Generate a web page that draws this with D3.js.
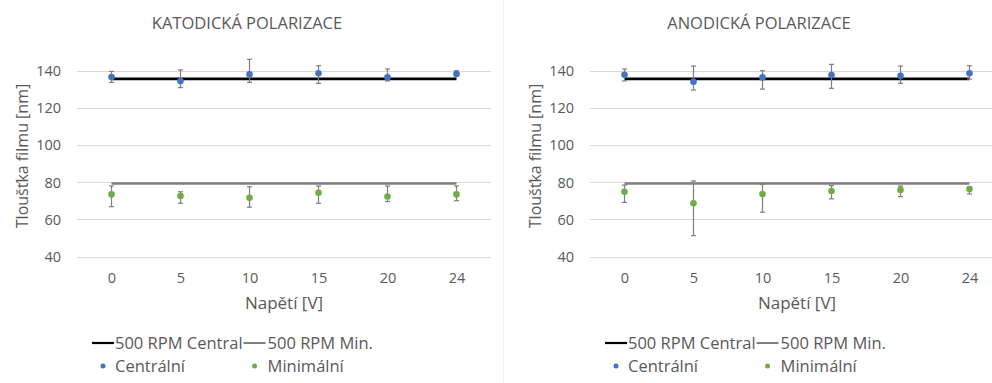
<!DOCTYPE html>
<html>
<head>
<meta charset="utf-8">
<script src="https://cdn.jsdelivr.net/npm/d3@7"></script>
<style>
  body { margin: 0; background: #fff; }
  text { font-family: "Open Sans", sans-serif; fill: #595959; }
</style>
</head>
<body>
<div id="chart-area"></div>
<script>
var width = 992;
var height = 383;

// categories (voltage) and y ticks
var categories = ["0", "5", "10", "15", "20", "24"];
var yTicks = [40, 60, 80, 100, 120, 140];

// reference levels (500 RPM)
var refCentral = 135.5;
var refMin = 79.3;

// KATODICKÁ POLARIZACE
var katCentral = [136.5, 134.3, 138, 138.5, 136.3, 138.1];
var katCentralUp = [3, 6, 8, 4.1, 4.5, 1.8];
var katCentralDown = [2.9, 3.5, 4.4, 5.4, 1.9, 1.1];
var katMin = [73.4, 72.5, 71.6, 74.3, 72.2, 73.4];
var katMinUp = [4.5, 2.3, 5.9, 3.6, 5.7, 4.5];
var katMinDown = [6.6, 3.9, 5.1, 5.7, 2.7, 3.4];

// ANODICKÁ POLARIZACE
var anoCentral = [137.7, 134, 136.3, 137.6, 137.2, 138.5];
var anoCentralUp = [3.1, 8.4, 3.6, 5.7, 5.2, 4.1];
var anoCentralDown = [3.3, 4.5, 6.3, 7.2, 4.1, 3.1];
var anoMin = [74.8, 68.6, 73.6, 75.2, 75.8, 76.3];
var anoMinUp = [3.6, 12, 5.2, 2.9, 2.1, 1.2];
var anoMinDown = [5.7, 17.4, 9.8, 4.2, 3.6, 2.7];

var blue = "#4472C4";
var green = "#70AD47";

var svg = d3.select("#chart-area")
  .append("svg")
  .attr("width", width)
  .attr("height", height);

// faint chart border between the two charts
svg.append("line")
  .attr("x1", 503.5).attr("x2", 503.5)
  .attr("y1", 0).attr("y2", height)
  .attr("stroke", "#f3f3f3");

function drawChart(opts) {
  var g = svg.append("g");

  var xScale = d3.scalePoint()
    .domain(categories)
    .range([opts.left, opts.left + 414])
    .padding(0.5);

  var yScale = d3.scaleLinear()
    .domain([40, 140])
    .range([256.5, 70.5]);

  // grid
  g.selectAll(".grid")
    .data(yTicks)
    .enter().append("line")
    .attr("x1", opts.left)
    .attr("x2", opts.left + 414)
    .attr("y1", d => Math.round(yScale(d)) + 0.5)
    .attr("y2", d => Math.round(yScale(d)) + 0.5)
    .attr("stroke", "#d9d9d9");

  var yAxis = d3.axisLeft(yScale).tickValues(yTicks).tickSize(0).tickPadding(0);
  var yAxisG = g.append("g")
    .attr("transform", "translate(" + (opts.left - 16) + ",0)")
    .call(yAxis);
  yAxisG.select(".domain").remove();
  yAxisG.selectAll("text")
    .attr("font-size", "14.5px")
    .attr("font-family", null)
    .attr("fill", "#595959")
    .attr("dy", "0.35em");

  var xAxis = d3.axisBottom(xScale).tickSize(0).tickPadding(0);
  var xAxisG = g.append("g")
    .attr("transform", "translate(0,273)")
    .call(xAxis);
  xAxisG.select(".domain").remove();
  xAxisG.selectAll("text")
    .attr("font-size", "14.5px")
    .attr("font-family", null)
    .attr("fill", "#595959")
    .attr("dy", "0.71em");

  // titles
  g.append("text")
    .attr("x", opts.titleX)
    .attr("y", 29)
    .attr("text-anchor", "middle")
    .attr("font-size", "16.5px")
    .text(opts.title);

  g.append("text")
    .attr("x", -156)
    .attr("y", opts.yLabelX)
    .attr("transform", "rotate(-90)")
    .attr("text-anchor", "middle")
    .attr("dy", "0.35em")
    .attr("font-size", "16px")
    .text("Tloušťka filmu [nm]");

  g.append("text")
    .attr("x", opts.left + 207)
    .attr("y", 309)
    .attr("text-anchor", "middle")
    .attr("font-size", "17px")
    .text("Napětí [V]");

  // reference lines
  var first = categories[0], last = categories[categories.length - 1];
  g.append("line")
    .attr("x1", xScale(first)).attr("x2", xScale(last))
    .attr("y1", yScale(refMin)).attr("y2", yScale(refMin))
    .attr("stroke", "#808080").attr("stroke-width", 2.5);
  g.append("line")
    .attr("x1", xScale(first)).attr("x2", xScale(last))
    .attr("y1", yScale(refCentral)).attr("y2", yScale(refCentral))
    .attr("stroke", "#000").attr("stroke-width", 2.75);

  // point series with error bars
  opts.series.forEach(function (s) {
    var data = categories.map((c, i) => ({
      cat: c, v: s.values[i], up: s.up[i], down: s.down[i]
    }));
    var eb = g.append("g").attr("stroke", "#7f7f7f").attr("stroke-width", 1.2);
    eb.selectAll(".bar").data(data).enter().append("line")
      .attr("x1", d => xScale(d.cat)).attr("x2", d => xScale(d.cat))
      .attr("y1", d => yScale(d.v + d.up)).attr("y2", d => yScale(d.v - d.down));
    eb.selectAll(".capt").data(data).enter().append("line")
      .attr("x1", d => xScale(d.cat) - 2.5).attr("x2", d => xScale(d.cat) + 2.5)
      .attr("y1", d => yScale(d.v + d.up)).attr("y2", d => yScale(d.v + d.up));
    eb.selectAll(".capb").data(data).enter().append("line")
      .attr("x1", d => xScale(d.cat) - 2.5).attr("x2", d => xScale(d.cat) + 2.5)
      .attr("y1", d => yScale(d.v - d.down)).attr("y2", d => yScale(d.v - d.down));
    g.selectAll(".pt-" + s.key).data(data).enter().append("circle")
      .attr("cx", d => xScale(d.cat))
      .attr("cy", d => yScale(d.v))
      .attr("r", 3.3)
      .attr("fill", s.color);
  });

  // legend
  var lx = opts.legendX;
  var row1 = 343, row2 = 366;
  g.append("line")
    .attr("x1", lx).attr("x2", lx + 22)
    .attr("y1", row1).attr("y2", row1)
    .attr("stroke", "#000").attr("stroke-width", 2.2);
  var t1 = g.append("text")
    .attr("x", lx + 23).attr("y", row1)
    .attr("dy", "0.35em")
    .attr("font-size", "16.5px")
    .text("500 RPM Central");
  var col2 = lx + 23 + t1.node().getComputedTextLength() + 1;
  g.append("line")
    .attr("x1", col2).attr("x2", col2 + 22)
    .attr("y1", row1).attr("y2", row1)
    .attr("stroke", "#808080").attr("stroke-width", 2);
  g.append("text")
    .attr("x", col2 + 24).attr("y", row1)
    .attr("dy", "0.35em")
    .attr("font-size", "16.5px")
    .text("500 RPM Min.");

  g.append("circle")
    .attr("cx", lx + 11).attr("cy", row2).attr("r", 2.5).attr("fill", blue);
  g.append("text")
    .attr("x", lx + 23).attr("y", row2)
    .attr("dy", "0.35em")
    .attr("font-size", "16.5px")
    .text("Centrální");
  g.append("circle")
    .attr("cx", col2 + 11).attr("cy", row2).attr("r", 2.5).attr("fill", green);
  g.append("text")
    .attr("x", col2 + 24).attr("y", row2)
    .attr("dy", "0.35em")
    .attr("font-size", "16.5px")
    .text("Minimální");
}

drawChart({
  left: 77,
  title: "KATODICKÁ POLARIZACE",
  titleX: 247,
  yLabelX: 22,
  legendX: 92,
  series: [
    { key: "c", values: katCentral, up: katCentralUp, down: katCentralDown, color: blue },
    { key: "m", values: katMin, up: katMinUp, down: katMinDown, color: green }
  ]
});

drawChart({
  left: 590,
  title: "ANODICKÁ POLARIZACE",
  titleX: 759,
  yLabelX: 535,
  legendX: 605,
  series: [
    { key: "c", values: anoCentral, up: anoCentralUp, down: anoCentralDown, color: blue },
    { key: "m", values: anoMin, up: anoMinUp, down: anoMinDown, color: green }
  ]
});
</script>
</body>
</html>
